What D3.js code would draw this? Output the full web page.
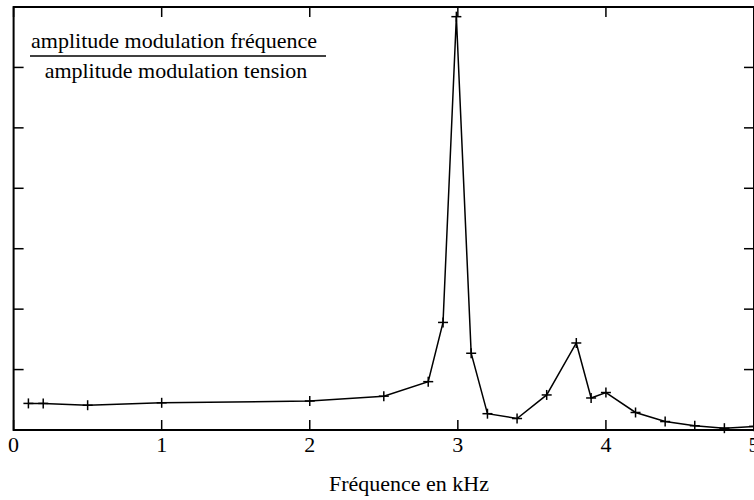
<!DOCTYPE html>
<html><head><meta charset="utf-8">
<script src="https://cdn.jsdelivr.net/npm/d3@7"></script>
<style>html,body{margin:0;padding:0;background:#fff;overflow:hidden}svg{display:block}</style>
</head><body>
<svg id="c" width="754" height="500"></svg>
<script>
const freqKHz = [0.1,0.2,0.5,1.0,2.0,2.5,2.8,2.9,2.99,3.09,3.2,3.4,3.6,3.8,3.9,4.0,4.2,4.4,4.6,4.8,5.0];
const ratio   = [0.44,0.44,0.41,0.45,0.48,0.56,0.80,1.78,6.84,1.27,0.27,0.19,0.58,1.44,0.53,0.62,0.29,0.14,0.07,0.03,0.06];
const xTicks = [0,1,2,3,4,5];
const yTicks = [1,2,3,4,5,6];
const xTitle = "Fréquence en kHz";
const numLabel = "amplitude modulation fréquence";
const denLabel = "amplitude modulation tension";

const svg = d3.select("#c");
const L = 13.6, R = 754, T = 7, B = 430;
const x = d3.scaleLinear().domain([0,5]).range([L,R]);
const y = d3.scaleLinear().domain([0,7]).range([B,T]);
const FONT = "\"Liberation Serif\"";

const g = svg.append("g");
const tk = 10;
g.selectAll(".xb").data(xTicks).join("line").attr("class","xb")
  .attr("x1",d=>x(d)).attr("x2",d=>x(d)).attr("y1",B).attr("y2",B-tk)
  .attr("stroke","#000").attr("stroke-width",1.5);
g.selectAll(".xt").data(xTicks).join("line").attr("class","xt")
  .attr("x1",d=>x(d)).attr("x2",d=>x(d)).attr("y1",T).attr("y2",T+tk)
  .attr("stroke","#000").attr("stroke-width",1.5);
g.selectAll(".yl").data(yTicks).join("line").attr("class","yl")
  .attr("x1",L).attr("x2",L+tk).attr("y1",d=>y(d)).attr("y2",d=>y(d))
  .attr("stroke","#000").attr("stroke-width",1.5);
g.selectAll(".yr").data(yTicks).join("line").attr("class","yr")
  .attr("x1",R).attr("x2",R-tk).attr("y1",d=>y(d)).attr("y2",d=>y(d))
  .attr("stroke","#000").attr("stroke-width",1.5);
g.append("rect").attr("x",L).attr("y",T).attr("width",R-L).attr("height",B-T)
  .attr("fill","none").attr("stroke","#000").attr("stroke-width",2);

g.selectAll(".xlab").data(xTicks).join("text").attr("class","xlab")
  .attr("x",d=>x(d)).attr("y",452).attr("text-anchor","middle")
  .style("font-family",FONT).attr("font-size",22).text(d=>d);

g.append("text").attr("x",409).attr("y",491).attr("text-anchor","middle")
  .style("font-family",FONT).attr("font-size",22).text(xTitle);

g.append("text").attr("x",174).attr("y",48).attr("text-anchor","middle")
  .style("font-family",FONT).attr("font-size",22).text(numLabel);
g.append("line").attr("x1",30).attr("x2",326).attr("y1",56).attr("y2",56)
  .attr("stroke","#000").attr("stroke-width",1.5);
g.append("text").attr("x",176).attr("y",78).attr("text-anchor","middle")
  .style("font-family",FONT).attr("font-size",22).text(denLabel);

const pts = freqKHz.map((f,i)=>[f,ratio[i]]);
g.append("path").datum(pts)
  .attr("d", d3.line().x(d=>x(d[0])).y(d=>y(d[1])))
  .attr("fill","none").attr("stroke","#000").attr("stroke-width",1.5);
const m = 5;
const mk = g.selectAll(".mk").data(pts).join("g").attr("class","mk")
  .attr("transform",d=>`translate(${x(d[0])},${y(d[1])})`);
mk.append("line").attr("x1",-m).attr("x2",m).attr("stroke","#000").attr("stroke-width",1.5);
mk.append("line").attr("y1",-m).attr("y2",m).attr("stroke","#000").attr("stroke-width",1.5);
</script>
</body></html>
